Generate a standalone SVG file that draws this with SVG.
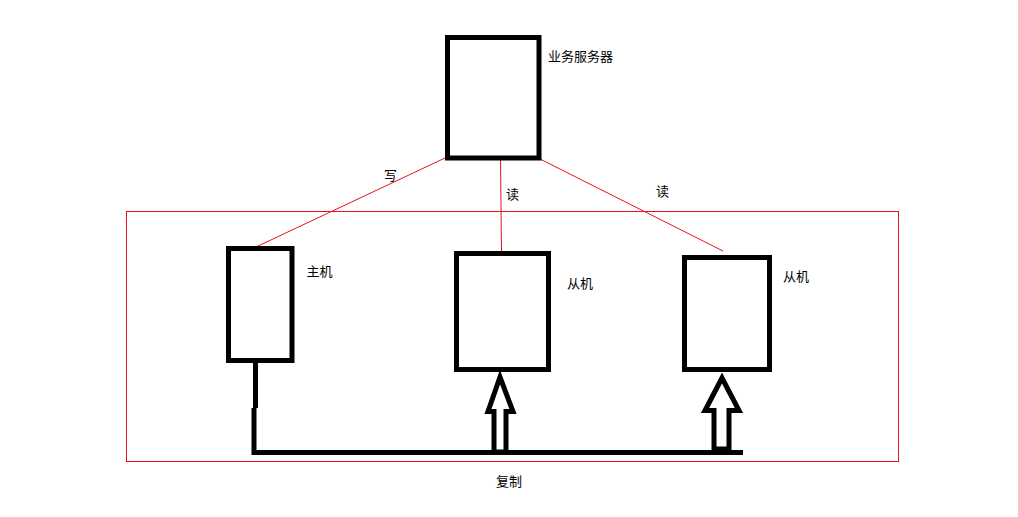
<svg xmlns="http://www.w3.org/2000/svg" width="1018" height="517" viewBox="0 0 1018 517">
<style>
.box{fill:#fff;stroke:#000;stroke-width:5}
.red{fill:none;stroke:#e8101c;stroke-width:1}
.thick{fill:none;stroke:#000;stroke-width:5}
.arrow{fill:#fff;stroke:#000;stroke-width:5;stroke-linejoin:miter}
text{font-family:"Noto Sans CJK SC","Microsoft YaHei",sans-serif;font-size:13px;fill:#000}
</style>
<rect width="1018" height="517" fill="#fff"/>
<g id="cluster">
<rect class="red" x="126.5" y="211.5" width="772" height="250"/>
</g>
<g id="connectors">
<line class="red" x1="445" y1="158" x2="257" y2="246.5"/>
<line class="red" x1="500.5" y1="160" x2="501.5" y2="252"/>
<line class="red" x1="540" y1="159" x2="723" y2="251"/>
<polyline class="thick" points="255.5,363 255.5,408"/>
<polyline class="thick" points="254,408 254,452.5 743,452.5"/>
<polygon class="arrow" points="500,377 488,411.5 494,411.5 494,452 506,452 506,411.5 513,411.5"/>
<polygon class="arrow" points="722,378 705,410.5 714,410.5 714,449 729,449 729,410.5 739,410.5"/>
<text x="384" y="180">写</text>
<text x="506" y="198.5">读</text>
<text x="656" y="196">读</text>
<text x="496" y="486">复制</text>
</g>
<g id="server">
<rect class="box" x="447.5" y="37.5" width="91.5" height="120.5"/>
<text x="548" y="60.5">业务服务器</text>
</g>
<g id="master">
<rect class="box" x="228.5" y="248.5" width="63.5" height="112"/>
<text x="306.5" y="276">主机</text>
</g>
<g id="slave1">
<rect class="box" x="456.5" y="253.5" width="92" height="116"/>
<text x="567" y="288">从机</text>
</g>
<g id="slave2">
<rect class="box" x="684.5" y="257.5" width="85" height="112"/>
<text x="783" y="281">从机</text>
</g>
</svg>
